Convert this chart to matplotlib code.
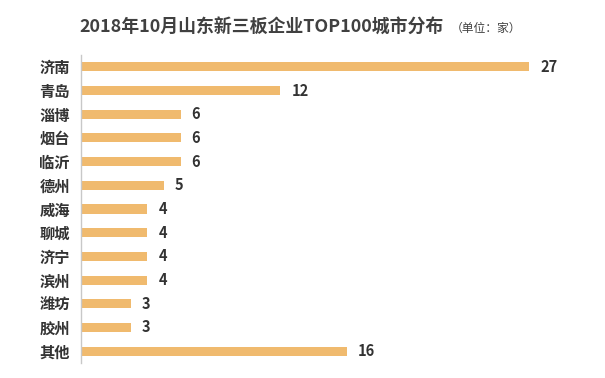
import matplotlib.pyplot as plt

plt.rcParams['font.family'] = ['Noto Sans CJK SC', 'DejaVu Sans']

cities = ['济南', '青岛', '淄博', '烟台', '临沂', '德州', '威海', '聊城', '济宁', '滨州', '潍坊', '胶州', '其他']
counts = [27, 12, 6, 6, 6, 5, 4, 4, 4, 4, 3, 3, 16]

fig = plt.figure(figsize=(6.05, 3.78), dpi=100)
ax = fig.add_axes([81 / 605, 1 - 363 / 378, (600 - 81) / 605, 308 / 378])

y = range(len(cities))
bars = ax.barh(y, counts, height=0.38, color='#F0BA6E')
ax.set_ylim(len(cities) - 0.5, -0.5)
ax.set_xlim(0, (600 - 81) / 16.6)

ax.set_yticks(list(y))
ax.set_yticklabels(cities, fontsize=11, color='#333333', fontweight='bold')
ax.tick_params(axis='y', length=0, pad=8)
ax.set_xticks([])

for s in ['top', 'right', 'bottom']:
    ax.spines[s].set_visible(False)
ax.spines['left'].set_color('#C8C8C8')
ax.spines['left'].set_linewidth(1)

ax.bar_label(bars, labels=[str(c) for c in counts], padding=8,
             fontsize=10.5, fontweight='bold', color='#333333')

fig.text(0.132, 0.928, '2018年10月山东新三板企业TOP100城市分布', fontsize=12.9,
         fontweight='bold', color='#404040', ha='left', va='center')
fig.text(0.745, 0.925, '（单位：家）', fontsize=8.5, color='#404040', ha='left', va='center')

fig.savefig('out.png', dpi=100)
